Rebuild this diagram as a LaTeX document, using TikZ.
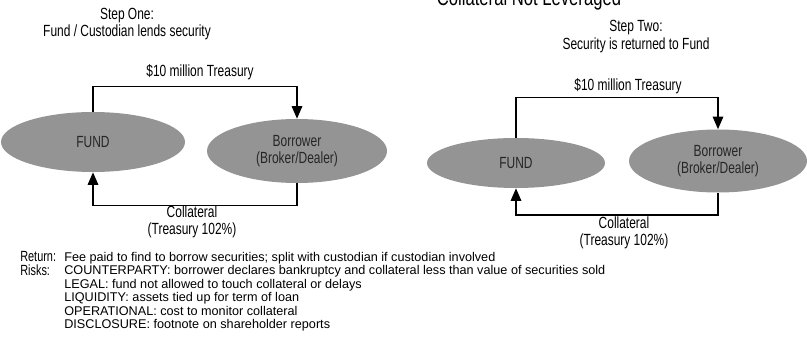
\documentclass[tikz,border=0pt]{standalone}
\usepackage{fontspec}
\setmainfont{Liberation Sans}[FakeStretch=0.74]
\newfontfamily\notesfont{Liberation Sans}
\usepackage{tikz}
\usetikzlibrary{shapes.geometric,arrows.meta}

\begin{document}
\begin{tikzpicture}[
    party/.style={draw=none, ellipse, fill=black!42, text=black!85, align=center, font=\fontsize{11.5}{12.5}\selectfont},
    flow/.style={line width=1.1pt, -{Triangle[length=9pt,width=7.5pt]}},
    caption/.style={align=center, font=\fontsize{11.5}{12.5}\selectfont},
    notes/.style={anchor=north west, align=left, inner sep=0pt, font=\notesfont\fontsize{9}{9.6}\selectfont}
  ]
  % Frame of the page
  \useasboundingbox (0,0) rectangle (20.175,-8.925);

  % Title cut off at the top of the page
  \node[font=\fontsize{16}{18}\selectfont] (title) at (13.225,0.02) {Collateral Not Leveraged};

  % Step One
  \node[caption] (step1) at (3.175,-0.6) {Step One:\\Fund / Custodian lends security};
  \node[party, minimum width=4.6cm, minimum height=1.5cm] (fund1) at (2.325,-3.55) {FUND};
  \node[party, minimum width=4.5cm, minimum height=1.6cm] (bor1) at (7.425,-3.775) {Borrower\\(Broker/Dealer)};

  % Security goes out, collateral comes back
  \draw[flow] (fund1.north) -- ++(0,0.625) coordinate (up1) -| (bor1.north);
  \node[caption] (sec1) at (5.0,-1.8) {\$10 million Treasury};
  \draw[flow] (bor1.south) -- ++(0,-0.55) coordinate (down1) -| (fund1.south);
  \node[caption] (col1) at (4.8,-5.55) {Collateral\\(Treasury 102\%)};

  % Step Two
  \node[caption] (step2) at (15.9,-0.92) {Step Two:\\Security is returned to Fund};
  \node[party, minimum width=4.45cm, minimum height=1.25cm] (fund2) at (12.9,-4.075) {FUND};
  \node[party, minimum width=4.45cm, minimum height=1.575cm] (bor2) at (17.95,-4.025) {Borrower\\(Broker/Dealer)};

  % Security comes back, collateral is returned
  \draw[flow] (fund2.north) -- ++(0,1.0) coordinate (up2) -| (bor2.north);
  \node[caption] (sec2) at (15.7,-2.15) {\$10 million Treasury};
  \draw[flow] (bor2.south) -- ++(0,-0.55) coordinate (down2) -| (fund2.south);
  \node[caption] (col2) at (15.6,-5.825) {Collateral\\(Treasury 102\%)};

  % Notes under the diagrams
  \node[notes, font=\rmfamily\fontsize{10.5}{9.6}\selectfont] (heads) at (0.5,-6.28) {Return:\\Risks:};
  \node[notes] (risks) at (1.6,-6.3) {%
    Fee paid to find to borrow securities; split with custodian if custodian involved\\
    COUNTERPARTY: borrower declares bankruptcy and collateral less than value of securities sold\\
    LEGAL: fund not allowed to touch collateral or delays\\
    LIQUIDITY: assets tied up for term of loan\\
    OPERATIONAL: cost to monitor collateral\\
    DISCLOSURE: footnote on shareholder reports};
\end{tikzpicture}
\end{document}
